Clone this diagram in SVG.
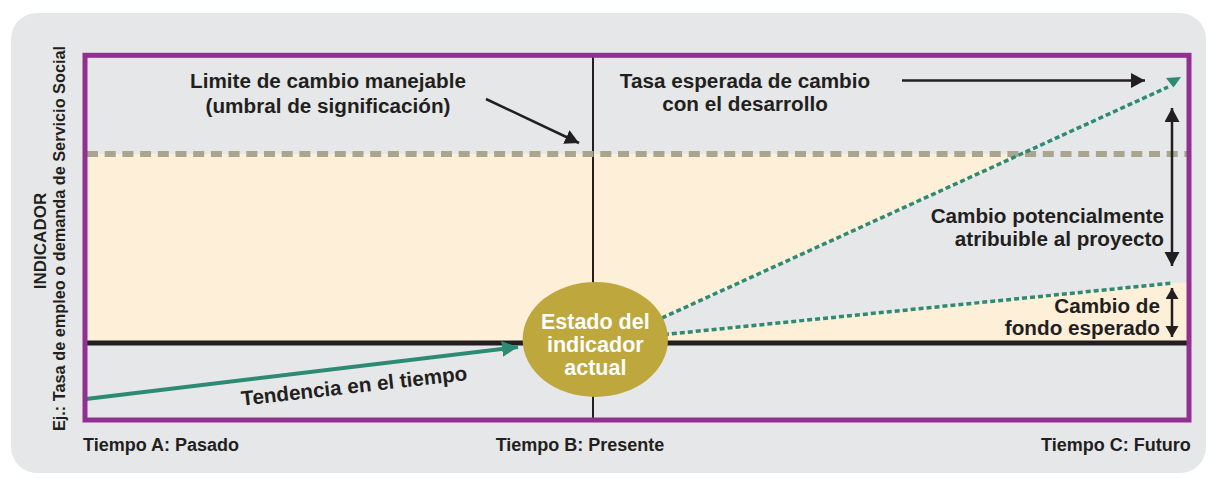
<svg xmlns="http://www.w3.org/2000/svg" width="1211" height="478" viewBox="0 0 1211 478">
<style>
text{font-family:"Liberation Sans",Arial,sans-serif;font-weight:bold;fill:#231f20}
.lbl{font-size:20.7px}
.ax{font-size:18px}
.yax{font-size:16.3px}
.circ{font-size:21.5px;fill:#ffffff}
.blk{stroke:#231f20;stroke-width:2.5;fill:none}
.gd{stroke:#2d8a74;stroke-width:3.5;fill:none;stroke-dasharray:5 3}
</style>
<defs>
<marker id="ahB" markerUnits="userSpaceOnUse" markerWidth="16" markerHeight="16" refX="14" refY="7.5" orient="auto-start-reverse"><path d="M0,0 L14,7.5 L0,15 z" fill="#231f20"/></marker>
<marker id="ahS" markerUnits="userSpaceOnUse" markerWidth="14" markerHeight="14" refX="11" refY="6.5" orient="auto-start-reverse"><path d="M0,0 L11,6.5 L0,13 z" fill="#231f20"/></marker>
<marker id="ahG" markerUnits="userSpaceOnUse" markerWidth="18" markerHeight="18" refX="16" refY="8" orient="auto"><path d="M0,0 L16,8 L0,16 z" fill="#2d8a74"/></marker>
</defs>
<rect id="panel" x="11" y="13" width="1195" height="460" rx="26" fill="#e6e7e8"/>
<g id="zone">
<polygon points="87,154 1024,154 618,339 1173,283 1187,283 1187,343 87,343" fill="#fdefd8"/>
</g>
<g id="connectors">
<line x1="593" y1="57" x2="593" y2="418" stroke="#231f20" stroke-width="2"/>
<line x1="87" y1="154" x2="1187" y2="154" stroke="#a9a58f" stroke-width="6" stroke-dasharray="11 6.7"/>
<line x1="87" y1="343" x2="1187" y2="343" stroke="#231f20" stroke-width="5"/>
<line x1="86" y1="399" x2="518" y2="347" stroke="#2d8a74" stroke-width="4" marker-end="url(#ahG)"/>
<line class="gd" x1="640" y1="328" x2="1168" y2="87"/>
<polygon points="1166,78 1181,77 1173.5,87.5" fill="#2d8a74"/>
<line class="gd" x1="640" y1="337" x2="1173" y2="283"/>
<line class="blk" x1="902" y1="80.5" x2="1145" y2="80.5" marker-end="url(#ahB)"/>
<line class="blk" x1="486" y1="99" x2="579" y2="143" marker-end="url(#ahB)"/>
<line class="blk" x1="1172" y1="108" x2="1172" y2="266" marker-start="url(#ahB)" marker-end="url(#ahB)"/>
<line class="blk" x1="1172" y1="288" x2="1172" y2="337" marker-start="url(#ahS)" marker-end="url(#ahS)"/>
</g>
<rect id="frame" x="85" y="55.3" width="1104" height="364.7" fill="none" stroke="#92308f" stroke-width="5"/>
<g id="estado">
<ellipse cx="595.3" cy="339.5" rx="72.7" ry="57.5" fill="#bea73d"/>
<text class="circ" x="595.3" y="329" text-anchor="middle">Estado del</text>
<text class="circ" x="595.3" y="352" text-anchor="middle">indicador</text>
<text class="circ" x="595.3" y="375" text-anchor="middle">actual</text>
</g>
<g id="limite">
<text class="lbl" x="328" y="88" text-anchor="middle">Limite de cambio manejable</text>
<text class="lbl" x="328" y="113" text-anchor="middle">(umbral de significación)</text>
</g>
<g id="tasa">
<text class="lbl" x="745" y="87.5" text-anchor="middle">Tasa esperada de cambio</text>
<text class="lbl" x="745" y="111" text-anchor="middle">con el desarrollo</text>
</g>
<g id="potencial">
<text class="lbl" x="1164" y="223" text-anchor="end">Cambio potencialmente</text>
<text class="lbl" x="1164" y="246" text-anchor="end">atribuible al proyecto</text>
</g>
<g id="fondo">
<text class="lbl" x="1160" y="313" text-anchor="end">Cambio de</text>
<text class="lbl" x="1160" y="334.5" text-anchor="end">fondo esperado</text>
</g>
<g id="tendencia">
<text class="lbl" x="355" y="393" text-anchor="middle" transform="rotate(-6.5 355 393)">Tendencia en el tiempo</text>
</g>
<g id="ejes">
<text class="ax" x="83" y="450.7">Tiempo A: Pasado</text>
<text class="ax" x="580" y="450.7" text-anchor="middle">Tiempo B: Presente</text>
<text class="ax" x="1190.7" y="450.7" text-anchor="end">Tiempo C: Futuro</text>
<text class="yax" style="font-size:17px" x="0" y="0" text-anchor="middle" transform="translate(45.5 241) rotate(-90)">INDICADOR</text>
<text class="yax" x="0" y="0" text-anchor="middle" transform="translate(65 238.5) rotate(-90)">Ej.: Tasa de empleo o demanda de Servicio Social</text>
</g>
</svg>
